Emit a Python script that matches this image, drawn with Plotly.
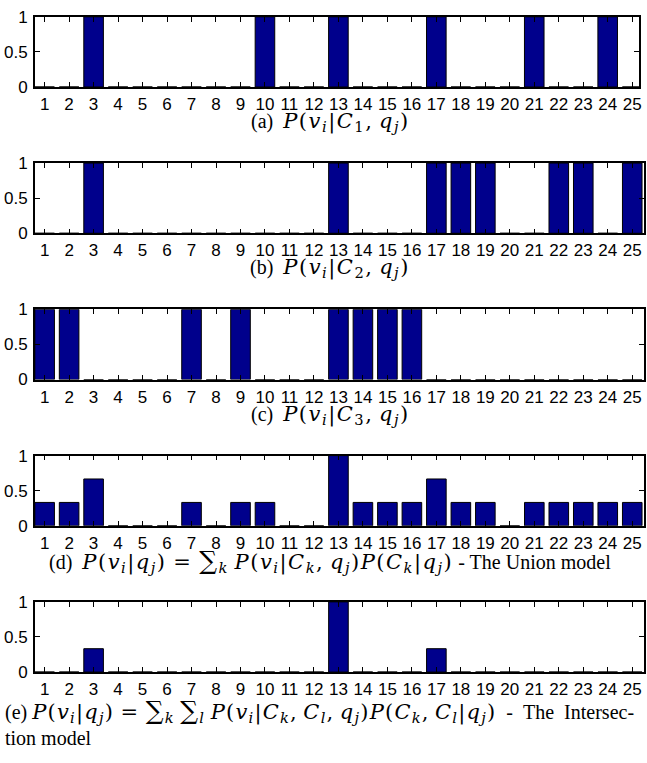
import plotly.graph_objects as go

W, H = 647, 763

categories = list(range(1, 26))
tick_labels = [str(c) for c in categories]

p_c1 = [0, 0, 1, 0, 0, 0, 0, 0, 0, 1, 0, 0, 1, 0, 0, 0, 1, 0, 0, 0, 1, 0, 0, 1, 0]
p_c2 = [0, 0, 1, 0, 0, 0, 0, 0, 0, 0, 0, 0, 1, 0, 0, 0, 1, 1, 1, 0, 0, 1, 1, 0, 1]
p_c3 = [1, 1, 0, 0, 0, 0, 1, 0, 1, 0, 0, 0, 1, 1, 1, 1, 0, 0, 0, 0, 0, 0, 0, 0, 0]
p_union = [0.333, 0.333, 0.667, 0, 0, 0, 0.333, 0, 0.333, 0.333, 0, 0, 1.0, 0.333,
           0.333, 0.333, 0.667, 0.333, 0.333, 0, 0.333, 0.333, 0.333, 0.333, 0.333]
p_inter = [0, 0, 0.333, 0, 0, 0, 0, 0, 0, 0, 0, 0, 1.0, 0, 0, 0, 0.333, 0, 0, 0,
           0, 0, 0, 0, 0]

series = [p_c1, p_c2, p_c3, p_union, p_inter]

TS = "\u2009"   # thin space
MS = "\u2005"   # medium space
ES = "\u2002"   # en space


def m(s, ls=1.5):
    return ('<span style="font-family:DejaVu Serif;font-size:21px;letter-spacing:%gpx">' % ls
            + s + '</span>')


def it(s):
    return "<i>" + s + "</i>"


def sub(s):
    return "<sub>" + s + "</sub>"


def big(s):
    return '<span style="font-size:25px">' + s + '</span>'


v_i = it("v") + sub(it("i"))
q_j = it("q") + sub(it("j"))
P = it("P")
C_k = it("C") + sub(it("k"))
C_l = it("C") + sub(it("l"))
SUMK = big("∑") + sub(it("k"))
SUML = big("∑") + sub(it("l"))

cap_a = "(a)" + MS + MS + m(P + "(" + v_i + "|" + it("C") + sub("1") + "," + TS + q_j + ")")
cap_b = "(b)" + MS + MS + m(P + "(" + v_i + "|" + it("C") + sub("2") + "," + TS + q_j + ")")
cap_c = "(c)" + MS + MS + m(P + "(" + v_i + "|" + it("C") + sub("3") + "," + TS + q_j + ")")
cap_d = ("(d)" + MS + MS + m(P + "(" + v_i + "|" + q_j + ")" + MS + "=" + MS + SUMK + TS
         + P + "(" + v_i + "|" + C_k + "," + TS + q_j + ")" + P + "(" + C_k + "|" + q_j + ")")
         + " - The Union model")
cap_e = ("(e)" + MS + m(P + "(" + v_i + "|" + q_j + ")" + MS + "=" + MS + SUMK + TS + SUML + TS
                        + P + "(" + v_i + "|" + C_k + "," + TS + C_l + "," + TS + q_j + ")"
                        + P + "(" + C_k + "," + TS + C_l + "|" + q_j + ")", ls=1.2)
         + ES + "-" + ES + "The" + ES + "Intersec-<br>tion model")

captions = [cap_a, cap_b, cap_c, cap_d, cap_e]

BAR_COLOR = "rgb(0,0,140)"
LEFT = 35
PERIOD = 150
TOP0, PH = 8, 72
TFONT = dict(family="Liberation Sans, Arial, sans-serif", size=17, color="black")
CFONT = dict(family="Liberation Serif, serif", size=20, color="black")

fig = go.Figure()
layout = dict(
    width=W, height=H,
    margin=dict(l=0, r=0, t=0, b=0),
    paper_bgcolor="white", plot_bgcolor="white",
    showlegend=False,
    font=TFONT,
)

annotations = []
for k, vals in enumerate(series):
    idx = "" if k == 0 else str(k + 1)
    top = TOP0 + PERIOD * k
    bot = top + PH
    right = 642 if k == 0 else 647
    xmax = 25.28 if k == 0 else 25.48
    fig.add_trace(go.Bar(
        x=categories, y=vals,
        marker=dict(color=BAR_COLOR, line=dict(color="black", width=1)),
        width=0.8,
        xaxis="x" + idx, yaxis="y" + idx,
        hoverinfo="x+y",
    ))
    layout["xaxis" + idx] = dict(
        domain=[LEFT / W, right / W], anchor="y" + idx,
        range=[0.6, xmax], tickmode="array", tickvals=categories, ticktext=tick_labels,
        ticks="inside", ticklen=5, tickcolor="black", tickwidth=1,
        showline=True, linecolor="black", linewidth=1.5, mirror="ticks",
        showgrid=False, zeroline=False, fixedrange=True,
        tickfont=TFONT, ticklabelstandoff=1, ticklabeloverflow="allow",
    )
    layout["yaxis" + idx] = dict(
        domain=[1 - bot / H, 1 - top / H], anchor="x" + idx,
        range=[0, 1], tickmode="array", tickvals=[0, 0.5, 1], ticktext=["0", "0.5", "1"],
        ticks="inside", ticklen=5, tickcolor="black", tickwidth=1,
        showline=True, linecolor="black", linewidth=1.5, mirror="ticks",
        showgrid=False, zeroline=False, fixedrange=True,
        tickfont=TFONT, ticklabelstandoff=2, ticklabeloverflow="allow",
    )
    if k < 4:
        annotations.append(dict(
            text=captions[k], xref="paper", yref="paper",
            x=332 / W, y=1 - (bot + 36) / H, xanchor="center", yanchor="middle",
            showarrow=False, font=CFONT,
        ))
    else:
        annotations.append(dict(
            text=captions[k], xref="paper", yref="paper",
            x=3 / W, y=1 - (bot + 22) / H, xanchor="left", yanchor="top", align="left",
            showarrow=False, font=CFONT,
        ))

layout["annotations"] = annotations
fig.update_layout(**layout)
fig.write_html("out.html", config={"displayModeBar": False},
               post_script="document.body.style.margin='0';")
